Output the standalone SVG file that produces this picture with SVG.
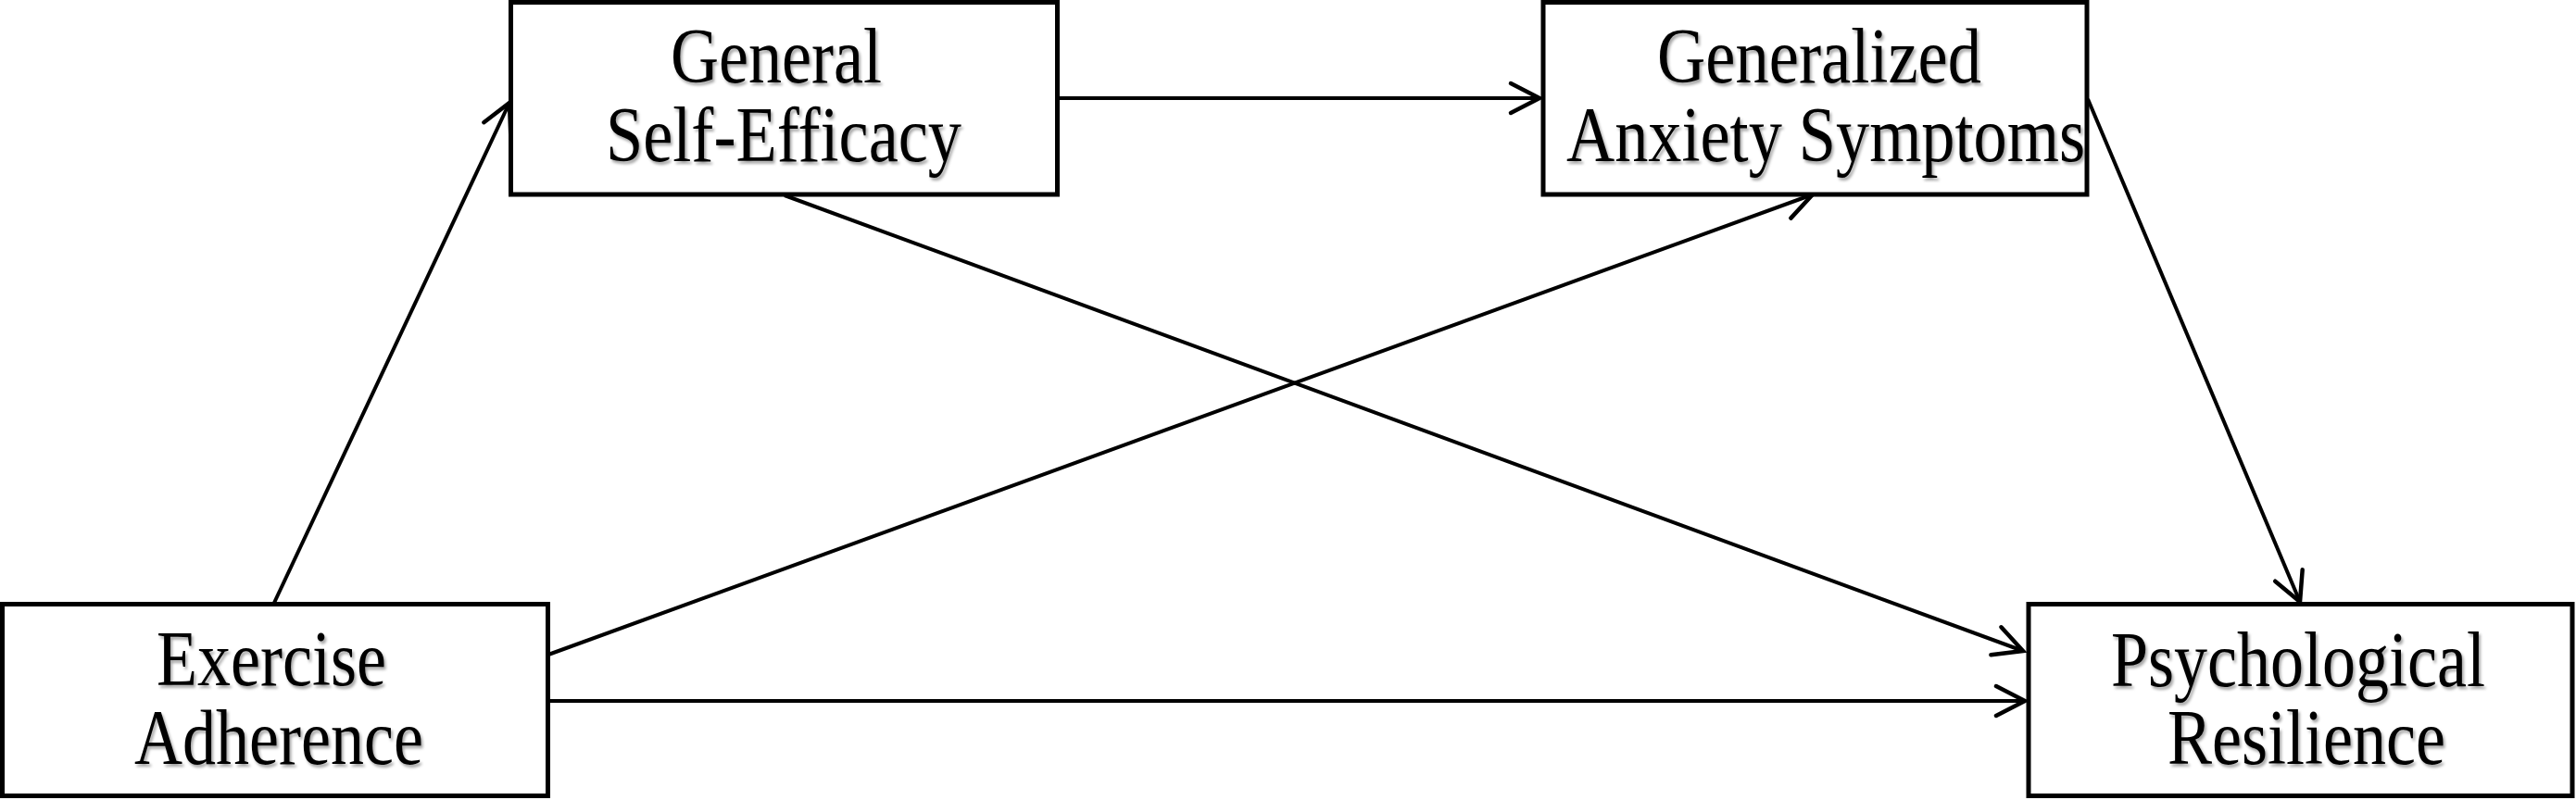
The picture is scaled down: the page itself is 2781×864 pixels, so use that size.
<svg xmlns="http://www.w3.org/2000/svg" width="2781" height="864" viewBox="0 0 2781 864">
<style>
.box{fill:#fff;stroke:#000;stroke-width:5}
.lbl{font-family:"Liberation Serif","Times New Roman",serif;font-size:84px;fill:#000;text-anchor:middle;filter:url(#sh)}
.edge{stroke:#000;stroke-width:4;fill:none;marker-end:url(#arr)}
</style>
<defs>
<filter id="sh" x="-10%" y="-20%" width="120%" height="150%">
<feDropShadow dx="2" dy="3" stdDeviation="1.5" flood-color="#000" flood-opacity="0.35"/>
</filter>
<marker id="arr" markerUnits="userSpaceOnUse" markerWidth="50" markerHeight="50" viewBox="-40 -25 50 50" refX="0" refY="0" orient="auto">
<path d="M-31,-16 L0,0 L-31,16" fill="none" stroke="#000" stroke-width="4.5" stroke-linecap="round" stroke-linejoin="miter"/>
</marker>
</defs>
<rect width="2781" height="864" fill="#fff"/>
<g id="connectors">
<line class="edge" x1="296" y1="651" x2="550" y2="111"/>
<line class="edge" x1="1142" y1="106" x2="1662" y2="106"/>
<line class="edge" x1="847" y1="211" x2="2184" y2="703"/>
<line class="edge" x1="592" y1="707" x2="1957" y2="210"/>
<line class="edge" x1="592" y1="757" x2="2186" y2="757"/>
<line class="edge" x1="2254" y1="107" x2="2483" y2="650"/>
</g>
<g id="node-gse">
<rect class="box" x="551.5" y="2.5" width="590" height="207.5"/>
<text class="lbl" x="838" y="89" textLength="228" lengthAdjust="spacingAndGlyphs">General</text>
<text class="lbl" x="846" y="174" textLength="384" lengthAdjust="spacingAndGlyphs">Self-Efficacy</text>
</g>
<g id="node-gas">
<rect class="box" x="1666" y="2.5" width="587" height="207.5"/>
<text class="lbl" x="1964" y="89" textLength="350" lengthAdjust="spacingAndGlyphs">Generalized</text>
<text class="lbl" x="1971" y="174" textLength="560" lengthAdjust="spacingAndGlyphs">Anxiety Symptoms</text>
</g>
<g id="node-ea">
<rect class="box" x="2.5" y="652.5" width="589" height="207"/>
<text class="lbl" x="293" y="740" textLength="248" lengthAdjust="spacingAndGlyphs">Exercise</text>
<text class="lbl" x="301" y="825" textLength="312" lengthAdjust="spacingAndGlyphs">Adherence</text>
</g>
<g id="node-pr">
<rect class="box" x="2190" y="652.5" width="587" height="207"/>
<text class="lbl" x="2481" y="741" textLength="404" lengthAdjust="spacingAndGlyphs">Psychological</text>
<text class="lbl" x="2490" y="825" textLength="300" lengthAdjust="spacingAndGlyphs">Resilience</text>
</g>
</svg>
